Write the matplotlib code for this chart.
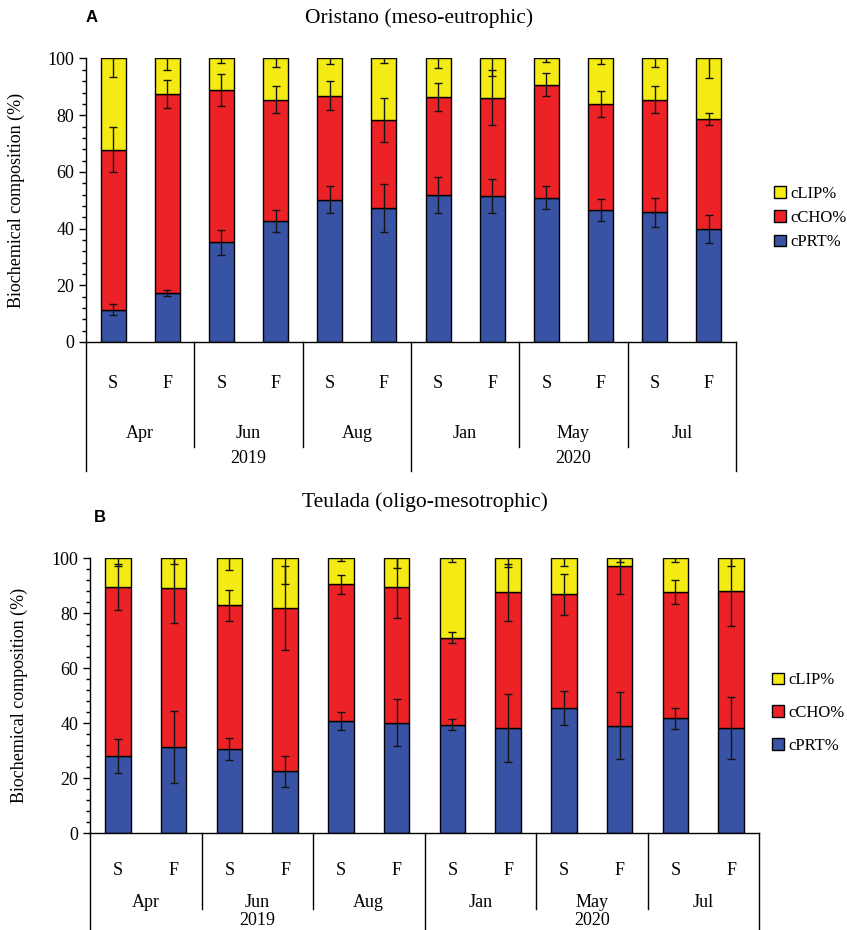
import matplotlib.pyplot as plt
import matplotlib.transforms as mtransforms
from matplotlib.patches import Patch
from matplotlib.ticker import MultipleLocator
import numpy as np

plt.rcParams['font.family'] = 'Liberation Serif'

seasons = ['S', 'F'] * 6
months = ['Apr', 'Jun', 'Aug', 'Jan', 'May', 'Jul']
years = ['2019', '2020']

# Oristano (meso-eutrophic), % of biopolymeric C
prt_a = [11.4, 17.2, 35.1, 42.6, 50.2, 47.4, 51.9, 51.5, 50.9, 46.6, 45.8, 39.9]
cho_a = [56.4, 70.4, 53.8, 42.9, 36.6, 30.9, 34.5, 34.7, 39.9, 37.4, 39.7, 38.8]
lip_a = [32.2, 12.4, 11.1, 14.5, 13.2, 21.7, 13.6, 13.8, 9.2, 16.0, 14.5, 21.3]
prt_err_a = [2.0, 1.0, 4.5, 3.8, 4.7, 8.5, 6.3, 6.0, 4.0, 4.0, 5.1, 4.9]
cho_err_a = [8.0, 4.9, 5.8, 4.9, 5.1, 7.8, 5.0, 9.8, 4.1, 4.7, 4.8, 2.2]
lip_err_a = [6.7, 4.0, 1.5, 3.0, 2.0, 1.5, 3.2, 6.3, 1.2, 2.0, 3.0, 7.0]

# Teulada (oligo-mesotrophic)
prt_b = [28.0, 31.3, 30.4, 22.4, 40.7, 40.1, 39.3, 38.2, 45.5, 39.0, 41.7, 38.2]
cho_b = [61.5, 57.8, 52.4, 59.4, 49.8, 49.2, 31.7, 49.3, 41.3, 58.2, 45.9, 49.8]
lip_b = [10.5, 10.9, 17.2, 18.2, 9.5, 10.7, 29.0, 12.5, 13.2, 2.8, 12.4, 12.0]
prt_err_b = [6.2, 13.0, 4.0, 5.5, 3.4, 8.5, 2.0, 12.2, 6.2, 12.1, 3.7, 11.3]
cho_err_b = [8.5, 12.6, 5.7, 15.2, 3.5, 11.2, 2.0, 10.5, 7.4, 10.3, 4.4, 12.6]
lip_err_b = [3.0, 2.3, 4.2, 9.5, 1.0, 3.5, 1.3, 3.3, 3.0, 1.5, 1.5, 3.0]

BLUE = '#3953a4'
RED = '#ec2227'
YELLOW = '#f5eb14'


def draw_panel(ax, prt, cho, lip, prt_err, cho_err, lip_err, rows):
    x = np.arange(len(prt))
    prt = np.array(prt)
    cho = np.array(cho)
    lip = np.array(lip)
    w = 0.46
    ax.bar(x, prt, w, color=BLUE, edgecolor='black', linewidth=1)
    ax.bar(x, cho, w, bottom=prt, color=RED, edgecolor='black', linewidth=1)
    ax.bar(x, lip, w, bottom=prt + cho, color=YELLOW, edgecolor='black', linewidth=1)
    for top, err in [(prt, prt_err), (prt + cho, cho_err), (prt + cho + lip, lip_err)]:
        ax.errorbar(x, top, yerr=err, fmt='none', ecolor='#151515',
                    elinewidth=1, capsize=3, capthick=1)

    ax.set_xlim(-0.5, len(prt) - 0.5)
    ax.set_ylim(0, 100)
    ax.yaxis.set_major_locator(MultipleLocator(20))
    ax.yaxis.set_minor_locator(MultipleLocator(4))
    ax.tick_params(axis='y', which='major', direction='out', length=5, width=1, labelsize=13)
    ax.tick_params(axis='y', which='minor', direction='out', length=3, width=1)
    ax.set_xticks([])
    for s in ['top', 'right']:
        ax.spines[s].set_visible(False)
    ax.spines['left'].set_linewidth(1)
    ax.spines['bottom'].set_linewidth(1)
    ax.set_ylabel('Biochemical composition (%)', fontsize=13)

    # multi-level category axis: season / month / year
    sf_y, month_y, year_y, month_end, year_end = rows
    tr = mtransforms.blended_transform_factory(ax.transData, ax.transAxes)
    for i, s in enumerate(seasons):
        ax.text(i, sf_y, s, transform=tr, ha='center', va='center', fontsize=13)
    for j, m in enumerate(months):
        ax.text(2 * j + 0.5, month_y, m, transform=tr, ha='center', va='center', fontsize=13)
    for k, yr in enumerate(years):
        ax.text(6 * k + 2.5, year_y, yr, transform=tr, ha='center', va='center', fontsize=13)
    for b in range(0, 13, 2):
        end = year_end if b % 6 == 0 else month_end
        ax.plot([b - 0.5, b - 0.5], [0, end], transform=tr, color='black',
                lw=1, clip_on=False)


fig = plt.figure(figsize=(8.47, 9.3), dpi=100)
ax_a = fig.add_axes([86 / 847, 1 - 342 / 930, 650 / 847, 283.5 / 930])
ax_b = fig.add_axes([90 / 847, 1 - 833 / 930, 669 / 847, 275 / 930])

draw_panel(ax_a, prt_a, cho_a, lip_a, prt_err_a, cho_err_a, lip_err_a,
           (-0.145, -0.321, -0.41, -0.37, -0.455))
draw_panel(ax_b, prt_b, cho_b, lip_b, prt_err_b, cho_err_b, lip_err_b,
           (-0.135, -0.251, -0.318, -0.275, -0.35))
ax_a.yaxis.set_label_coords(-0.094, 0.5)
ax_b.yaxis.set_label_coords(-0.093, 0.5)

fig.text(419 / 847, 1 - 18 / 930, 'Oristano (meso-eutrophic)', ha='center', va='center', fontsize=15.5)
fig.text(425 / 847, 1 - 502 / 930, 'Teulada (oligo-mesotrophic)', ha='center', va='center', fontsize=15.5)
fig.text(92 / 847, 1 - 18 / 930, 'A', family='Liberation Sans', weight='bold', ha='center', va='center', fontsize=12)
fig.text(100 / 847, 1 - 517 / 930, 'B', family='Liberation Sans', weight='bold', ha='center', va='center', fontsize=12)

handles = [Patch(facecolor=YELLOW, edgecolor='black', label='cLIP%'),
           Patch(facecolor=RED, edgecolor='black', label='cCHO%'),
           Patch(facecolor=BLUE, edgecolor='black', label='cPRT%')]
fig.legend(handles=handles, loc='center left', bbox_to_anchor=(766 / 847, 1 - 218 / 930),
           frameon=False, fontsize=12, handlelength=0.7, handleheight=0.7,
           handletextpad=0.25, labelspacing=0.5, borderpad=0)
fig.legend(handles=handles, loc='center left', bbox_to_anchor=(764 / 847, 1 - 713 / 930),
           frameon=False, fontsize=12, handlelength=0.7, handleheight=0.7,
           handletextpad=0.25, labelspacing=1.0, borderpad=0)

fig.savefig('out.png', dpi=100)
